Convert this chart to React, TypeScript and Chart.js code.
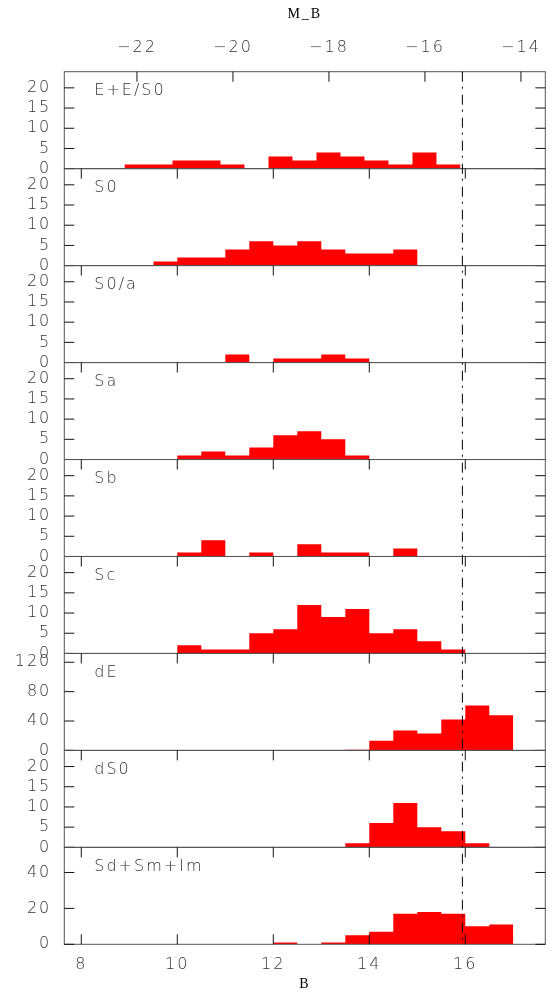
import React, { useEffect, useRef } from "react";
import { Chart, registerables } from "chart.js";

Chart.register(...registerables);

// ---------- data ----------
const panelNames = ["E+E/S0", "S0", "S0/a", "Sa", "Sb", "Sc", "dE", "dS0", "Sd+Sm+Im"];

// bin edges (B magnitude) of the half-magnitude histograms
const binEdges = [9.5, 10.0, 10.5, 11.0, 11.5, 12.0, 12.5, 13.0, 13.5, 14.0, 14.5, 15.0, 15.5, 16.0, 16.5, 17.0];
// the E+E/S0 panel uses bins shifted by -0.1 mag
const eBinEdges = [8.9, 9.4, 9.9, 10.4, 10.9, 11.4, 11.9, 12.4, 12.9, 13.4, 13.9, 14.4, 14.9, 15.4, 15.9];

const countsEES0 = [1, 1, 2, 2, 1, 0, 3, 2, 4, 3, 2, 1, 4, 1];
const countsS0 = [1, 2, 2, 4, 6, 5, 6, 4, 3, 3, 4, 0, 0, 0, 0];
const countsS0a = [0, 0, 0, 2, 0, 1, 1, 2, 1, 0, 0, 0, 0, 0, 0];
const countsSa = [0, 1, 2, 1, 3, 6, 7, 5, 1, 0, 0, 0, 0, 0, 0];
const countsSb = [0, 1, 4, 0, 1, 0, 3, 1, 1, 0, 2, 0, 0, 0, 0];
const countsSc = [0, 2, 1, 1, 5, 6, 12, 9, 11, 5, 6, 3, 1, 0, 0];
const countsdE = [0, 0, 0, 0, 0, 0, 0, 0, 1, 13, 27, 23, 42, 61, 48];
const countsdS0 = [0, 0, 0, 0, 0, 0, 0, 0, 1, 6, 11, 5, 4, 1, 0];
const countsSdSmIm = [0, 0, 0, 0, 0, 1, 0, 1, 5, 7, 17, 18, 17, 10, 11];

const panelCounts = [countsEES0, countsS0, countsS0a, countsSa, countsSb, countsSc, countsdE, countsdS0, countsSdSmIm];
const panelEdges = [eBinEdges, binEdges, binEdges, binEdges, binEdges, binEdges, binEdges, binEdges, binEdges];

const panelMax = [24, 24, 24, 24, 24, 24, 132, 24, 54];
const countTicks = [0, 5, 10, 15, 20];
const dETicks = [0, 40, 80, 120];
const sdTicks = [0, 20, 40];
const panelTicks = [countTicks, countTicks, countTicks, countTicks, countTicks, countTicks, dETicks, countTicks, sdTicks];

const bTicks = [8, 10, 12, 14, 16];
const mbTicks = [-22, -20, -18, -16, -14];
const bRange = [7.646, 17.667];
const distanceModulus = 31.16;
const limitB = 15.94;

// ---------- styling ----------
const W = 556;
const H = 994;
const AREA = { left: 64.3, top: 71.7, right: 545.3, bottom: 944.3 };
const sansFamily = "'DejaVu Sans', Verdana, sans-serif";
const sansFont = { family: sansFamily, size: 16, weight: "300" as any };
const serifFont = { family: "'Liberation Serif', 'Times New Roman', serif", size: 14 };
const letterSpacing = "2px";
const textColor = "#333";
const frameColor = "#555";
const tickColor = "#111";
const tickLen = 10;
const barColor = "#ff0000";

function stepPoints(edges: number[], counts: number[]) {
  const pts = counts.map((c, i) => ({ x: edges[i], y: c }));
  pts.push({ x: edges[counts.length], y: counts[counts.length - 1] });
  return pts;
}

const spacingPlugin = {
  id: "letterSpacing",
  beforeDraw(chart: any) {
    (chart.ctx as any).letterSpacing = letterSpacing;
  },
};

const framePlugin = {
  id: "panelFrames",
  afterDatasetsDraw(chart: any) {
    const ctx = chart.ctx as CanvasRenderingContext2D;
    const xs = chart.scales.x;
    const xt = chart.scales.x2;
    const { left, right, top: areaTop, bottom: areaBottom } = chart.chartArea;
    ctx.save();
    const last = panelNames.length - 1;
    panelNames.forEach((name, i) => {
      const ys = chart.scales["y" + i];
      const top = ys.top;
      const bottom = ys.bottom;
      ctx.lineWidth = 1;
      ctx.strokeStyle = frameColor;
      ctx.strokeRect(left, top, right - left, bottom - top);

      ctx.strokeStyle = tickColor;
      ctx.beginPath();
      for (const v of panelTicks[i]) {
        const y = ys.getPixelForValue(v);
        ctx.moveTo(left, y);
        ctx.lineTo(left + tickLen, y);
        ctx.moveTo(right, y);
        ctx.lineTo(right - tickLen, y);
      }
      const topScale = i === 0 ? xt : xs;
      const topTicks = i === 0 ? mbTicks : bTicks;
      for (const v of topTicks) {
        const x = topScale.getPixelForValue(v);
        ctx.moveTo(x, top);
        ctx.lineTo(x, top + tickLen);
      }
      if (i === last) {
        for (const v of bTicks) {
          const x = xs.getPixelForValue(v);
          ctx.moveTo(x, bottom);
          ctx.lineTo(x, bottom - tickLen);
        }
      }
      ctx.stroke();

      ctx.fillStyle = textColor;
      ctx.font = `${sansFont.weight} ${sansFont.size}px ${sansFamily}`;
      (ctx as any).letterSpacing = letterSpacing;
      ctx.textAlign = "left";
      ctx.textBaseline = "middle";
      ctx.fillText(name, left + 30, top + 19);
    });

    // completeness limit (dash-dot line)
    const lx = xs.getPixelForValue(limitB);
    ctx.strokeStyle = "#000";
    ctx.lineWidth = 1;
    ctx.setLineDash([10, 5, 2, 6]);
    ctx.beginPath();
    ctx.moveTo(lx, areaTop);
    ctx.lineTo(lx, areaBottom);
    ctx.stroke();
    ctx.restore();
  },
};

export default function App() {
  const canvasRef = useRef<HTMLCanvasElement | null>(null);

  useEffect(() => {
    if (!canvasRef.current) return;

    const datasets = panelNames.map((name, i) => ({
      label: name,
      data: stepPoints(panelEdges[i], panelCounts[i]),
      xAxisID: "x",
      yAxisID: "y" + i,
      stepped: "before" as const,
      fill: "origin",
      backgroundColor: barColor,
      borderWidth: 0,
      borderColor: barColor,
      pointRadius: 0,
      pointHoverRadius: 0,
    }));

    const scales: any = {
      x: {
        type: "linear",
        position: "bottom",
        min: bRange[0],
        max: bRange[1],
        grid: { display: false, drawTicks: false },
        border: { display: false },
        ticks: { padding: 11, font: sansFont, color: textColor, autoSkip: false },
        afterBuildTicks: (s: any) => {
          s.ticks = bTicks.map((v) => ({ value: v }));
        },
        afterFit: (s: any) => {
          s.height = H - AREA.bottom;
        },
        title: {
          display: true,
          text: "B",
          font: serifFont,
          color: "#000",
          padding: { top: 0, bottom: 1.6 },
        },
      },
      x2: {
        type: "linear",
        position: "top",
        min: bRange[0] - distanceModulus,
        max: bRange[1] - distanceModulus,
        grid: { display: false, drawTicks: false },
        border: { display: false },
        ticks: {
          padding: 14,
          font: sansFont,
          color: textColor,
          autoSkip: false,
          callback: (v: any) => String(v).replace("-", "\u2212"),
        },
        afterBuildTicks: (s: any) => {
          s.ticks = mbTicks.map((v) => ({ value: v }));
        },
        afterFit: (s: any) => {
          s.height = AREA.top;
        },
        title: {
          display: true,
          text: "M_B",
          font: serifFont,
          color: "#000",
          padding: { top: 5.6, bottom: 0 },
        },
      },
    };

    panelNames.forEach((_, i) => {
      scales["y" + i] = {
        type: "linear",
        position: "left",
        stack: "panels",
        stackWeight: 1,
        weight: panelNames.length - i,
        min: 0,
        max: panelMax[i],
        grid: { display: false, drawTicks: false },
        border: { display: false },
        ticks: { padding: 13, font: sansFont, color: textColor, autoSkip: false },
        afterBuildTicks: (s: any) => {
          s.ticks = panelTicks[i].map((v) => ({ value: v }));
        },
        afterFit: (s: any) => {
          s.width = AREA.left;
        },
      };
    });

    const chart = new Chart(canvasRef.current, {
      type: "line",
      data: { datasets: datasets as any },
      options: {
        animation: false,
        responsive: true,
        maintainAspectRatio: false,
        devicePixelRatio: 1,
        events: [],
        layout: { padding: { left: 0, top: 0, bottom: 0, right: W - AREA.right } },
        plugins: {
          legend: { display: false },
          tooltip: { enabled: false },
          title: { display: false },
        },
        scales,
      },
      plugins: [spacingPlugin, framePlugin],
    });

    return () => chart.destroy();
  }, []);

  return (
    <div style={{ position: "absolute", left: 0, top: 0, width: W, height: H, background: "#fff" }}>
      <canvas ref={canvasRef} />
    </div>
  );
}
